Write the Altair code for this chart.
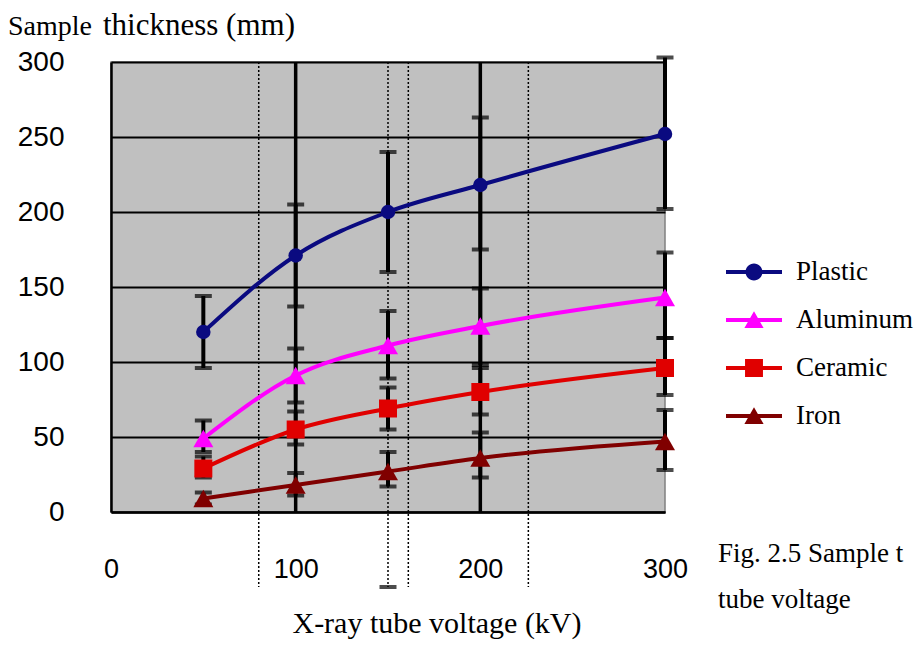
import altair as alt
import pandas as pd

# ---- data ----
voltage = [50, 100, 150, 200, 300]
series = ["Plastic", "Aluminum", "Ceramic", "Iron"]
values = {
    "Plastic":  [120, 171, 200, 218, 252],
    "Aluminum": [49, 91, 111, 124, 143],
    "Ceramic":  [29, 55, 69, 80, 96],
    "Iron":     [9, 18, 27, 36, 47],
}
err_lo = {
    "Plastic":  [96, 137, 160, 175, 202],
    "Aluminum": [40, 73, 89, 98, 116],
    "Ceramic":  [23, 45, 55, 65, 78],
    "Iron":     [5, 11, 17, 23, 28],
}
err_hi = {
    "Plastic":  [144, 205, 240, 263, 303],
    "Aluminum": [61, 109, 134, 149, 173],
    "Ceramic":  [37, 67, 83, 96, 116],
    "Iron":     [13, 26, 40, 53, 68],
}
colors = ["#0A0A80", "#FF00FF", "#E00000", "#800000"]
shapes = ["circle", "triangle-up", "square", "triangle-up"]
marker_sizes = [210, 400, 324, 400]

y_ticks = [0, 50, 100, 150, 200, 250, 300]
x_ticks = [0, 100, 200, 300]
solid_vlines = [100, 200]
dotted_vlines = [80, 150, 161, 226]
dotted_top, dotted_bottom = 300, -50
stray_cap_x, stray_cap_y = [150], [-50]

y_title_a = "Sample"
y_title_b = "thickness (mm)"
x_title = "X-ray tube voltage (kV)"
caption_1 = "Fig. 2.5 Sample t"
caption_2 = "tube voltage"

# ---- tables ----
rows = []
for s in series:
    for v, y, lo, hi in zip(voltage, values[s], err_lo[s], err_hi[s]):
        rows.append({"series": s, "v": v, "y": y, "lo": lo, "hi": hi})
df = pd.DataFrame(rows)
caps = pd.concat([
    df[["series", "v", "lo"]].rename(columns={"lo": "c"}),
    df[["series", "v", "hi"]].rename(columns={"hi": "c"}),
    pd.DataFrame({"series": ["extra"], "v": stray_cap_x, "c": stray_cap_y}),
])
dotted = pd.DataFrame({"v": dotted_vlines, "y": [dotted_top] * len(dotted_vlines),
                       "y2": [dotted_bottom] * len(dotted_vlines)})
solid = pd.DataFrame({"v": solid_vlines, "y": [0] * 2, "y2": [300] * 2})
legend_df = pd.DataFrame({"series": series})

xscale = alt.Scale(domain=[0, 300], nice=False, zero=False)
yscale = alt.Scale(domain=[0, 300], nice=False, zero=False)
xaxis = alt.Axis(values=x_ticks, title=None, grid=False, ticks=False,
                 labelFont="Liberation Sans", labelFontSize=27, labelColor="black",
                 labelPadding=44, labelBaseline="top", domainColor="black",
                 domainWidth=2.5, labelFlush=False)
yaxis = alt.Axis(values=y_ticks, title=None, grid=True, gridColor="black",
                 gridWidth=2, ticks=False, labelFont="Liberation Sans",
                 labelFontSize=28, labelColor="black", labelPadding=47,
                 domainColor="black", domainWidth=2.5)


def X(f="v"):
    return alt.X(f"{f}:Q", scale=xscale, axis=xaxis)


def Y(f):
    return alt.Y(f"{f}:Q", scale=yscale, axis=yaxis)


# legend symbols: a line segment with the marker on it
seg = "M-1.75,-0.13H1.75V0.13H-1.75Z"
marker_paths = {
    "circle": "M-0.53,0A0.53,0.53 0 1,1 0.53,0A0.53,0.53 0 1,1 -0.53,0Z",
    "triangle-up": "M0,-0.55L0.6,0.5L-0.6,0.5Z",
    "square": "M-0.56,-0.56H0.56V0.56H-0.56Z",
}
legend_paths = [seg + marker_paths[sh] for sh in shapes]

legend = alt.Legend(
    title=None, orient="none", legendX=627, legendY=194, symbolSize=1024,
    labelFont="Liberation Serif", labelFontSize=27, labelColor="black",
    labelOffset=26, rowPadding=19, labelLimit=400,
    symbolStrokeWidth=0, symbolOpacity=1,
)

base = alt.Chart(df)

dotted_layer = alt.Chart(dotted).mark_rule(color="black", strokeWidth=1.5,
                                           strokeDash=[2, 2]).encode(
    x=X(), y=Y("y"), y2="y2:Q")
solid_layer = alt.Chart(solid).mark_rule(color="black", strokeWidth=3.5).encode(
    x=X(), y=Y("y"), y2="y2:Q")
bars = base.mark_rule(color="black", strokeWidth=4).encode(x=X(), y=Y("lo"), y2="hi:Q")
cap_layer = alt.Chart(caps).mark_tick(color="black", orient="horizontal",
                                      size=17, thickness=4).encode(x=X(), y=Y("c"))

line_layers, point_layers = [], []
for s, c, sh, sz in zip(series, colors, shapes, marker_sizes):
    sub = base.transform_filter(alt.datum.series == s)
    line_layers.append(
        sub.mark_line(strokeWidth=4, interpolate="monotone", color=c)
        .encode(x=X(), y=Y("y"))
    )
    point_layers.append(
        sub.mark_point(filled=True, opacity=1, color=c, shape=sh, size=sz)
        .encode(x=X(), y=Y("y"))
    )

# layer that only carries the legend (its own marks are clipped out of view)
legend_layer = alt.Chart(legend_df).mark_point(filled=True, clip=True, opacity=1).encode(
    x=alt.value(-600), y=alt.value(-600),
    color=alt.Color("series:N", scale=alt.Scale(domain=series, range=colors),
                    legend=legend),
    shape=alt.Shape("series:N", scale=alt.Scale(domain=series, range=legend_paths),
                    legend=legend),
)


def txt(s, x, y, size, align="left"):
    return alt.Chart(pd.DataFrame({"t": [s]})).mark_text(
        align=align, baseline="alphabetic", font="Liberation Serif",
        fontSize=size, color="black").encode(text="t:N", x=alt.value(x), y=alt.value(y))


texts = [
    txt(y_title_a, -103, -27, 28),
    txt(y_title_b, -8, -27, 31),
    txt(x_title, 326, 571, 30, "center"),
    txt(caption_1, 607, 500, 27),
    txt(caption_2, 607, 546, 27),
]

chart = alt.layer(dotted_layer, solid_layer, bars, cap_layer, *line_layers, *point_layers,
                  legend_layer, *texts).properties(
    width=554, height=450,
    autosize=alt.AutoSizeParams(type="none"),
    padding={"left": 103, "top": 54, "right": 251, "bottom": 128},
    background="white",
).configure_view(fill="#C0C0C0", stroke="#808080", strokeWidth=1.5)

chart.save("out.html", embed_options={"renderer": "svg", "actions": False})
